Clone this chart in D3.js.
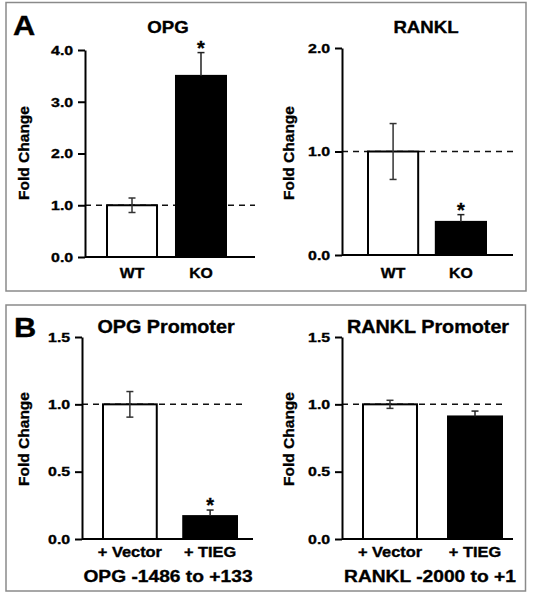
<!DOCTYPE html>
<html><head><meta charset="utf-8">
<script src="https://cdn.jsdelivr.net/npm/d3@7"></script>
<style>
body{margin:0;background:#fff}
svg text{font-family:"Liberation Sans",Arial,Helvetica,sans-serif;font-weight:bold;fill:#000;stroke:#000;stroke-width:0.35px}
</style>
</head><body>
<svg id="c" width="535" height="600"></svg>
<script>
// ---------- data ----------
const opgCategories = ["WT", "KO"];
const opgValues = [1.0, 3.5];
const opgErrors = [0.14, 0.45];
const opgSignificant = [false, true];
const opgTicks = [0, 1, 2, 3, 4];

const rankLCategories = ["WT", "KO"];
const rankLValues = [1.0, 0.32];
const rankLErrors = [0.27, 0.07];
const rankLSignificant = [false, true];
const rankLTicks = [0, 1, 2];

const promoterCategories = ["+ Vector", "+ TIEG"];
const opgPromValues = [1.0, 0.17];
const opgPromErrors = [0.095, 0.045];
const opgPromSignificant = [false, true];
const rankLPromValues = [1.0, 0.91];
const rankLPromErrors = [0.03, 0.04];
const rankLPromSignificant = [false, false];
const promoterTicks = [0, 0.5, 1.0, 1.5];

const barFills = ["#fff", "#000"];
const baselineValue = 1.0;

// ---------- layout ----------
const svg = d3.select("#c");
const SX = 1.13;

function txt(g, x, y, s, size, anchor, sx) {
  return g.append("text")
    .attr("transform", `translate(${x},${y}) scale(${sx == null ? SX : sx},1)`)
    .attr("text-anchor", anchor || "middle")
    .style("font-size", size + "px")
    .text(s);
}

// panel frames
svg.append("rect").attr("x", 6).attr("y", 2.5).attr("width", 520).attr("height", 288.5)
  .attr("fill", "none").attr("stroke", "#8a8a8a").attr("stroke-width", 1.5);
svg.append("rect").attr("x", 6).attr("y", 305).attr("width", 519.5).attr("height", 286)
  .attr("fill", "none").attr("stroke", "#8a8a8a").attr("stroke-width", 1.5);

txt(svg, 13, 35, "A", 28.5, "start", 1.08);
txt(svg, 14, 337, "B", 28.5, "start", 1.08);

const charts = [
  { title: "OPG", cats: opgCategories, vals: opgValues, errs: opgErrors, sig: opgSignificant,
    ticks: opgTicks, fmt: ".1f",
    x0: 85, x1: 255, y0: 257, yTop: 50, dashEnd: 255, band: [107, 226], pad: 0.275,
    titleX: 168, titleY: 33, titleSize: 16.5, ylabX: 29, ylabY: 153, xlabY: 278, xlabSize: 14 },
  { title: "RANKL", cats: rankLCategories, vals: rankLValues, errs: rankLErrors, sig: rankLSignificant,
    ticks: rankLTicks, fmt: ".1f",
    x0: 342, x1: 513, y0: 255, yTop: 48, dashEnd: 518, band: [368, 486], pad: 0.26,
    titleX: 426, titleY: 33, titleSize: 16.5, ylabX: 294, ylabY: 153, xlabY: 278, xlabSize: 14 },
  { title: "OPG Promoter", cats: promoterCategories, vals: opgPromValues, errs: opgPromErrors, sig: opgPromSignificant,
    ticks: promoterTicks, fmt: ".1f", sub: "OPG -1486 to +133",
    x0: 82, x1: 253, y0: 539, yTop: 337, dashEnd: 247, band: [103, 237], pad: 0.33,
    titleX: 166, titleY: 333, titleSize: 17.5, ylabX: 28.5, ylabY: 439, xlabY: 557, xlabSize: 14.5,
    subX: 168, subY: 582 },
  { title: "RANKL Promoter", cats: promoterCategories, vals: rankLPromValues, errs: rankLPromErrors, sig: rankLPromSignificant,
    ticks: promoterTicks, fmt: ".1f", sub: "RANKL -2000 to +1",
    x0: 342, x1: 513, y0: 539, yTop: 337, dashEnd: 505, band: [363, 502], pad: 0.365,
    titleX: 428, titleY: 333, titleSize: 17.5, ylabX: 294, ylabY: 439, xlabY: 557, xlabSize: 14.5,
    subX: 430, subY: 582 }
];

charts.forEach(c => {
  const g = svg.append("g");
  const y = d3.scaleLinear().domain([0, d3.max(c.ticks)]).range([c.y0, c.yTop]);
  const x = d3.scaleBand().domain(c.cats).range(c.band).paddingInner(c.pad).paddingOuter(0);

  // dashed reference line
  g.append("line")
    .attr("x1", c.x0).attr("x2", c.dashEnd)
    .attr("y1", y(baselineValue)).attr("y2", y(baselineValue))
    .attr("stroke", "#111").attr("stroke-width", 1.5).attr("stroke-dasharray", "6,5");

  // bars
  c.cats.forEach((cat, i) => {
    g.append("rect")
      .attr("x", x(cat)).attr("width", x.bandwidth())
      .attr("y", y(c.vals[i])).attr("height", y(0) - y(c.vals[i]))
      .attr("fill", barFills[i]).attr("stroke", "#000").attr("stroke-width", 2);
  });

  // error bars
  c.cats.forEach((cat, i) => {
    const cx = x(cat) + x.bandwidth() / 2;
    const top = y(c.vals[i] + c.errs[i]);
    const bot = i === 0 ? y(c.vals[i] - c.errs[i]) : y(c.vals[i]);
    const col = i === 0 ? "#333" : "#222";
    g.append("line").attr("x1", cx).attr("x2", cx).attr("y1", top).attr("y2", bot)
      .attr("stroke", col).attr("stroke-width", 1.5);
    g.append("line").attr("x1", cx - 3.5).attr("x2", cx + 3.5).attr("y1", top).attr("y2", top)
      .attr("stroke", col).attr("stroke-width", 1.5);
    if (i === 0) {
      g.append("line").attr("x1", cx - 3.5).attr("x2", cx + 3.5).attr("y1", bot).attr("y2", bot)
        .attr("stroke", col).attr("stroke-width", 1.5);
    }
    if (c.sig[i]) {
      txt(g, cx, top + 2, "*", 20, "middle", 1);
    }
  });

  // x axis line
  g.append("line").attr("x1", c.x0).attr("x2", c.x1).attr("y1", y(0)).attr("y2", y(0))
    .attr("stroke", "#000").attr("stroke-width", 2);

  // y axis
  const ax = g.append("g").attr("transform", `translate(${c.x0},0)`)
    .call(d3.axisLeft(y).tickValues(c.ticks).tickFormat(d3.format(c.fmt)).tickSize(7).tickSizeOuter(0).tickPadding(3));
  ax.select(".domain").attr("stroke", "#000").attr("stroke-width", 2);
  ax.selectAll(".tick line").attr("stroke", "#000").attr("stroke-width", 2);
  ax.selectAll(".tick text").attr("transform", "scale(1.18,1)")
    .style("font-size", "13.5px").attr("fill", "#000");

  // category labels
  c.cats.forEach(cat => {
    txt(g, x(cat) + x.bandwidth() / 2, c.xlabY, cat, c.xlabSize, "middle");
  });

  // title
  txt(g, c.titleX, c.titleY, c.title, c.titleSize, "middle");

  // y label
  g.append("text")
    .attr("transform", `translate(${c.ylabX},${c.ylabY}) rotate(-90)`)
    .attr("text-anchor", "middle").style("font-size", "15.5px").text("Fold Change");

  if (c.sub) txt(g, c.subX, c.subY, c.sub, 17, "middle");
});
</script>
</body></html>
